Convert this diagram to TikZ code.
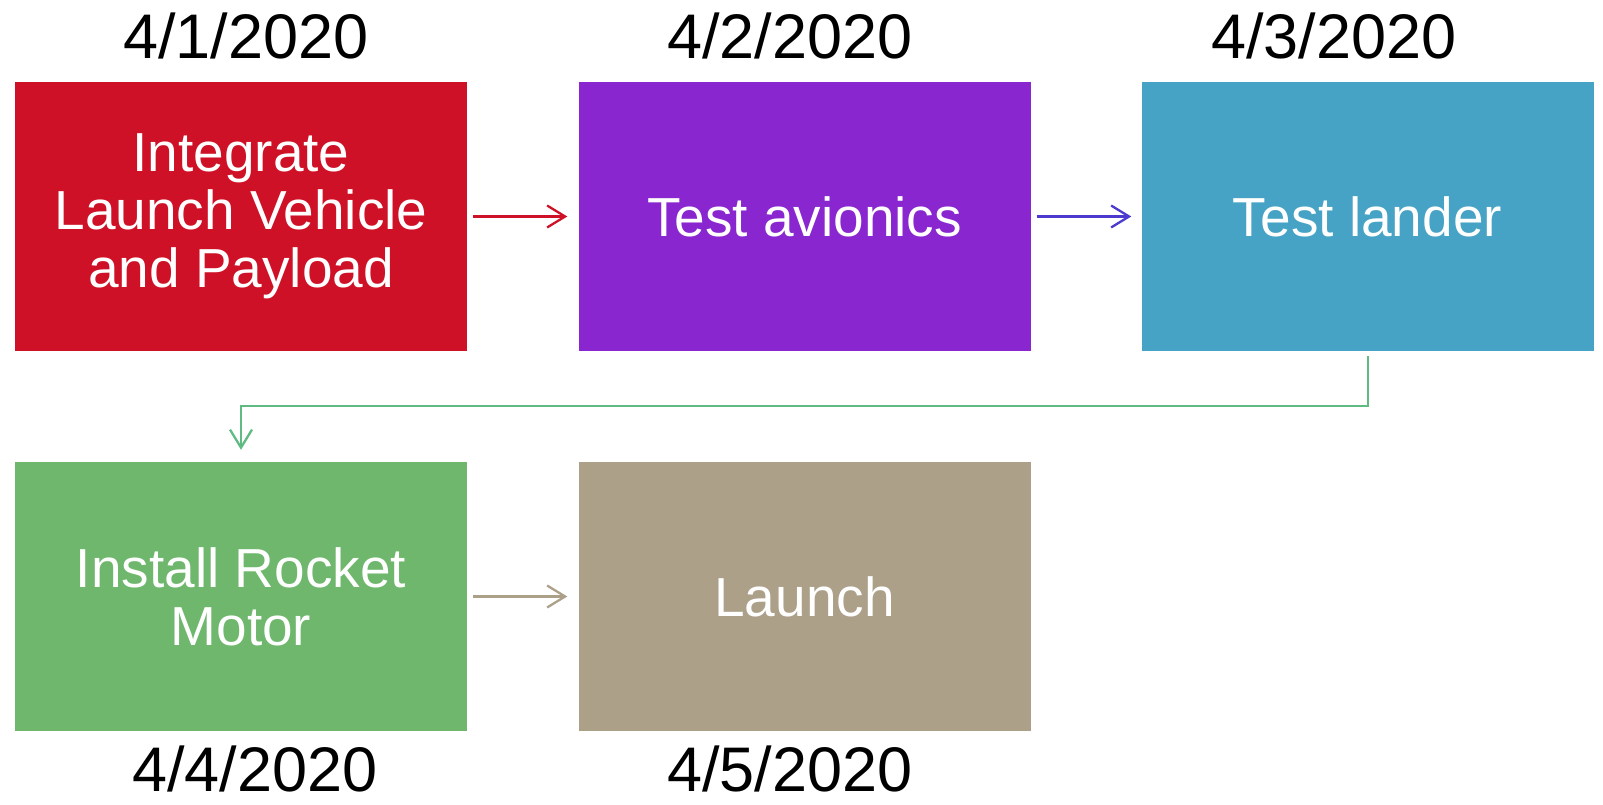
\documentclass[tikz,border=0pt]{standalone}
\usepackage{fontspec}
\setmainfont{Liberation Sans}
\usetikzlibrary{arrows.meta}
\definecolor{cred}{RGB}{206,17,38}
\definecolor{cpurple}{RGB}{137,38,207}
\definecolor{cblue}{RGB}{71,163,197}
\definecolor{cgreen}{RGB}{110,183,108}
\definecolor{ctan}{RGB}{172,160,137}
\definecolor{aindigo}{RGB}{75,58,205}
\definecolor{agreen}{RGB}{95,187,130}
\tikzset{
  box/.style={minimum width=452pt, minimum height=269pt, inner sep=0pt, text=white,
    align=center, font=\fontsize{55}{58}\selectfont},
  datelbl/.style={anchor=base, inner sep=0pt, font=\fontsize{63}{63}\selectfont},
  conn/.style={line width=2.3pt, -{Straight Barb[length=18pt,width=22pt,line width=2.3pt]}}
}
\begin{document}
\begin{tikzpicture}[x=1pt,y=-1pt]
\useasboundingbox (0,0) rectangle (1603,805);
\node[box, fill=cred] (b1) at (241,216.5) {Integrate\\Launch Vehicle\\and Payload};
\node[box, fill=cpurple] (b2) at (804.5,216.5) {Test avionics};
\node[box, fill=cblue] (b3) at (1367.5,216.5) {Test lander};
\node[box, fill=cgreen] (b4) at (241,596.5) {Install Rocket\\Motor};
\node[box, fill=ctan] (b5) at (804.5,596.5) {Launch};
\node[datelbl] (d1) at (246,59) {4/1/2020};
\node[datelbl] (d2) at (790,59) {4/2/2020};
\node[datelbl] (d3) at (1334,59) {4/3/2020};
\node[datelbl] (d4) at (255,791) {4/4/2020};
\node[datelbl] (d5) at (790,791) {4/5/2020};
\draw[conn, cred] ([xshift=6pt]b1.east) -- ([xshift=-11pt]b2.west);
\draw[conn, aindigo] ([xshift=6pt]b2.east) -- ([xshift=-10pt]b3.west);
\draw[conn, ctan] ([xshift=6pt]b4.east) -- ([xshift=-11pt]b5.west);
\coordinate (g1) at (800,406);
\draw[conn, agreen, line width=2pt] ([yshift=-5pt]b3.south) |- (g1) -| ([yshift=12pt]b4.north);
\end{tikzpicture}
\end{document}
